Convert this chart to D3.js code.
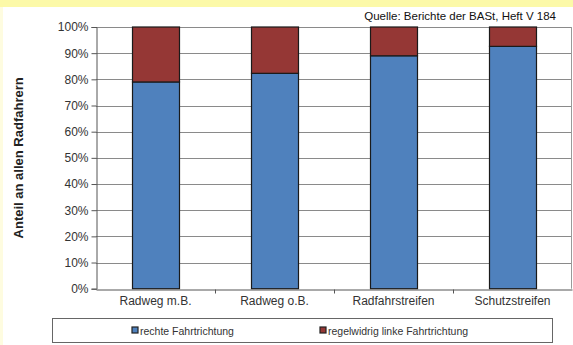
<!DOCTYPE html>
<html>
<head>
<meta charset="utf-8">
<script src="https://cdn.jsdelivr.net/npm/d3@7"></script>
<style>
  body { margin: 0; background: #fff; }
  svg { display: block; font-family: Arial, "Liberation Sans", sans-serif; }
</style>
</head>
<body>
<svg id="chart" width="573" height="345"></svg>
<script>
var categories = ['Radweg m.B.', 'Radweg o.B.', 'Radfahrstreifen', 'Schutzstreifen'];
var rechte = [79, 82.3, 89, 92.6];
var linke = [21, 17.7, 11, 7.4];
var seriesNames = ['rechte Fahrtrichtung', 'regelwidrig linke Fahrtrichtung'];
var seriesColors = ['#4f81bd', '#953735'];
var yTicks = [0, 10, 20, 30, 40, 50, 60, 70, 80, 90, 100];

var svg = d3.select('#chart');
var margin = {left: 96, right: 1, top: 27, bottom: 56};
var W = 573, H = 345;

// yellow band at top
svg.append('rect').attr('x', 0).attr('y', 0).attr('width', W).attr('height', 7).attr('fill', '#fcf9a8');
svg.append('rect').attr('x', 0).attr('y', 7).attr('width', 3).attr('height', H - 7).attr('fill', '#fefce0');

var xOuter = d3.scaleBand().domain(categories).range([margin.left, W - margin.right]);
var y = d3.scaleLinear().domain([0, 100]).range([H - margin.bottom - 0.3, margin.top]);

// grid lines
svg.append('g')
  .selectAll('line')
  .data(yTicks.slice(1))
  .enter().append('line')
  .attr('x1', margin.left).attr('x2', W - margin.right)
  .attr('y1', function(d) { return Math.round(y(d)) + 0.5; })
  .attr('y2', function(d) { return Math.round(y(d)) + 0.5; })
  .attr('stroke', '#8a8a8a').attr('stroke-width', 1);

// right border of plot area
svg.append('line')
  .attr('x1', W - margin.right - 0.5).attr('x2', W - margin.right - 0.5)
  .attr('y1', y(100)).attr('y2', y(0))
  .attr('stroke', '#9a9a9a');

var stacked = categories.map(function(c, i) {
  return {cat: c, parts: [[0, rechte[i]], [rechte[i], rechte[i] + linke[i]]]};
});

var bars = svg.append('g');
stacked.forEach(function(d) {
  d.parts.forEach(function(p, j) {
    bars.append('rect')
      .attr('x', xOuter(d.cat) + 36.5)
      .attr('width', 47)
      .attr('y', y(p[1]))
      .attr('height', y(p[0]) - y(p[1]))
      .attr('fill', seriesColors[j])
      .attr('stroke', '#1a1a1a')
      .attr('stroke-width', 1.2);
  });
});

// y axis
var yAxis = svg.append('g')
  .attr('transform', 'translate(' + (margin.left + 0.5) + ',0)')
  .call(d3.axisLeft(y).tickValues(yTicks).tickSize(5).tickPadding(3)
    .tickFormat(function(d) { return d + '%'; }));
yAxis.select('.domain').attr('stroke', '#555');
yAxis.selectAll('.tick line').attr('stroke', '#555');
yAxis.selectAll('text').attr('font-size', 12).attr('fill', '#333')
  .attr('font-family', 'Arial, "Liberation Sans", sans-serif');

// x axis
var xAxis = svg.append('g')
  .attr('transform', 'translate(0,' + (Math.round(y(0)) + 0.5) + ')')
  .call(d3.axisBottom(xOuter).tickSize(0).tickPadding(7));
xAxis.select('.domain').attr('stroke', '#555');
xAxis.selectAll('text').attr('font-size', 12).attr('fill', '#333')
  .attr('font-family', 'Arial, "Liberation Sans", sans-serif');
xAxis.selectAll('.sep')
  .data(categories.slice(1))
  .enter().append('line')
  .attr('x1', function(d) { return xOuter(d) + 0.5; })
  .attr('x2', function(d) { return xOuter(d) + 0.5; })
  .attr('y1', 0).attr('y2', 4)
  .attr('stroke', '#555');

// y label
svg.append('text')
  .attr('transform', 'translate(23,' + ((y(0) + y(100)) / 2) + ') rotate(-90)')
  .attr('text-anchor', 'middle')
  .attr('font-size', 13).attr('font-weight', 'bold').attr('fill', '#222')
  .text('Anteil an allen Radfahrern');

// source
svg.append('text')
  .attr('x', 556).attr('y', 20)
  .attr('text-anchor', 'end')
  .attr('font-size', 11.5).attr('fill', '#111')
  .text('Quelle: Berichte der BASt, Heft V 184');

// legend
var leg = svg.append('g');
leg.append('rect')
  .attr('x', 52.5).attr('y', 318.5).attr('width', 500).attr('height', 24)
  .attr('fill', '#fff').attr('stroke', '#666');
var legX = [132, 320];
seriesNames.forEach(function(n, i) {
  leg.append('rect')
    .attr('x', legX[i]).attr('y', 327).attr('width', 6).attr('height', 6)
    .attr('fill', seriesColors[i]).attr('stroke', '#222').attr('stroke-width', 1.2);
  leg.append('text')
    .attr('x', legX[i] + 8).attr('y', 334.5)
    .attr('font-size', 10.5).attr('fill', '#333')
    .text(n);
});
</script>
</body>
</html>
